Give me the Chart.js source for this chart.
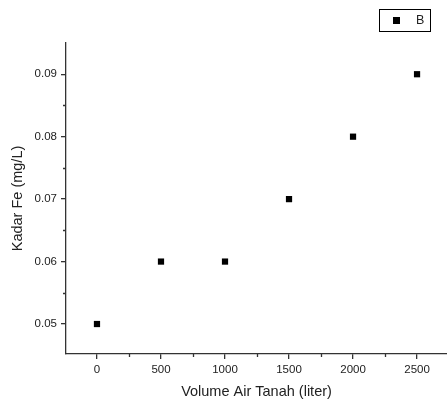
<!DOCTYPE html>
<html>
<head>
<meta charset="utf-8">
<script src="https://cdn.jsdelivr.net/npm/chart.js@4"></script>
<style>
  html, body { margin: 0; padding: 0; background: #fff; overflow: hidden; }
  #wrap { width: 447px; height: 403px; }
</style>
</head>
<body>
<div id="wrap"><canvas id="chart" width="447" height="403"></canvas></div>
<script>
const volume = [0, 500, 1000, 1500, 2000, 2500];
const kadarFe = [0.05, 0.06, 0.06, 0.07, 0.08, 0.09];
const seriesName = 'B';
const xTicks = [0, 500, 1000, 1500, 2000, 2500];
const yTicks = [0.05, 0.06, 0.07, 0.08, 0.09];
const xMinor = [250, 750, 1250, 1750, 2250];
const yMinor = [0.055, 0.065, 0.075, 0.085];

const FONT = 'Liberation Sans, Arial, sans-serif';
const AXIS = '#333';

// short outward ticks halfway between the labelled ones, plus the boxed legend
const extras = {
    id: 'extras',
    afterDraw(chart) {
        const ctx = chart.ctx;
        const x = chart.scales.x, y = chart.scales.y;
        ctx.save();
        ctx.strokeStyle = AXIS;
        ctx.lineWidth = 1.3;
        ctx.beginPath();
        xMinor.forEach(v => {
            const px = Math.round(x.getPixelForValue(v)) + 0.5;
            ctx.moveTo(px, y.bottom);
            ctx.lineTo(px, y.bottom + 3);
        });
        yMinor.forEach(v => {
            const py = Math.round(y.getPixelForValue(v)) + 0.5;
            ctx.moveTo(x.left, py);
            ctx.lineTo(x.left - 3, py);
        });
        ctx.stroke();

        ctx.lineWidth = 1;
        ctx.strokeStyle = '#000';
        ctx.strokeRect(379.5, 9.5, 51, 22);
        ctx.fillStyle = '#000';
        ctx.fillRect(393, 17, 7, 7);
        ctx.fillStyle = '#222';
        ctx.font = '12.5px ' + FONT;
        ctx.textBaseline = 'middle';
        ctx.fillText(chart.data.datasets[0].label, 416, 20.5);
        ctx.restore();
    }
};

new Chart(document.getElementById('chart'), {
    type: 'scatter',
    data: {
        datasets: [{
            label: seriesName,
            data: volume.map((v, i) => ({ x: v, y: kadarFe[i] })),
            pointStyle: 'rect',
            pointRadius: 4.4,
            pointHoverRadius: 4.4,
            backgroundColor: '#000',
            borderColor: '#000',
            borderWidth: 0
        }]
    },
    options: {
        responsive: false,
        animation: false,
        layout: { autoPadding: false, padding: { left: 0, top: 43, right: 0, bottom: 0 } },
        plugins: {
            legend: { display: false },
            tooltip: { enabled: false }
        },
        scales: {
            x: {
                type: 'linear',
                min: -242,
                max: 2734,
                afterBuildTicks: s => { s.ticks = xTicks.map(v => ({ value: v })); },
                afterFit: s => { s.height = 49; s.paddingLeft = 0; s.paddingRight = 0; },
                ticks: {
                    color: '#222',
                    font: { family: FONT, size: 11.5 },
                    padding: 4,
                    maxRotation: 0,
                    callback: v => String(v)
                },
                grid: {
                    drawOnChartArea: false,
                    drawTicks: true,
                    tickLength: 5,
                    color: AXIS,
                    lineWidth: 1.3
                },
                border: { display: true, color: AXIS, width: 1.3 },
                title: {
                    display: true,
                    text: 'Volume Air Tanah (liter)',
                    color: '#222',
                    font: { family: FONT, size: 14.5 },
                    padding: { top: 0, bottom: 2 }
                }
            },
            y: {
                type: 'linear',
                min: 0.0452,
                max: 0.095,
                afterBuildTicks: s => { s.ticks = yTicks.map(v => ({ value: v })); },
                afterFit: s => { s.width = 66; s.paddingTop = 0; s.paddingBottom = 0; },
                ticks: {
                    color: '#222',
                    font: { family: FONT, size: 11.5 },
                    padding: 4,
                    callback: v => Number(v).toFixed(2)
                },
                grid: {
                    drawOnChartArea: false,
                    drawTicks: true,
                    tickLength: 5,
                    color: AXIS,
                    lineWidth: 1.3
                },
                border: { display: true, color: AXIS, width: 1.3 },
                title: {
                    display: true,
                    text: 'Kadar Fe (mg/L)',
                    color: '#222',
                    font: { family: FONT, size: 14.5 },
                    padding: { top: 9, bottom: 0 }
                }
            }
        }
    },
    plugins: [extras]
});
</script>
</body>
</html>
